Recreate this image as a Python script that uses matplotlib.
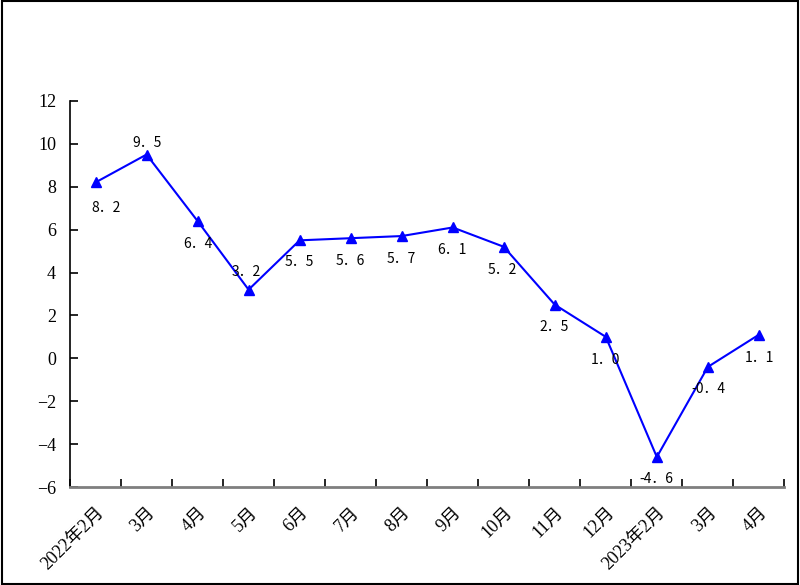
import matplotlib.pyplot as plt
from matplotlib.patches import Rectangle

plt.rcParams["font.family"] = ["Liberation Serif", "DejaVu Serif", "Noto Sans CJK SC"]

months = ["2022年2月", "3月", "4月", "5月", "6月", "7月", "8月", "9月",
          "10月", "11月", "12月", "2023年2月", "3月", "4月"]
values = [8.2, 9.5, 6.4, 3.2, 5.5, 5.6, 5.7, 6.1, 5.2, 2.5, 1.0, -4.6, -0.4, 1.1]
value_labels = ["8.2", "9.5", "6.4", "3.2", "5.5", "5.6", "5.7", "6.1",
                "5.2", "2.5", "1.0", "-4.6", "-0.4", "1.1"]

# label offsets in pixels (dx, dy)
offsets = [(11, -26), (1, 12), (0, -23), (-2, 18), (0, -22), (0, -23), (0, -23),
           (-1, -23), (-1, -23), (-1, -22), (0, -23), (0, -22), (1, -22), (1, -23)]

cjk = ["Noto Sans CJK SC", "DejaVu Sans"]

fig = plt.figure(figsize=(8, 5.85), dpi=100)
ax = fig.add_axes([0.0875, 0.1675, 0.893, 0.66])

x = list(range(len(values)))
ax.plot(x, values, color="#0000ff", lw=1.5, marker="^", ms=7.5)

for i, (v, t) in enumerate(zip(values, value_labels)):
    dx, dy = offsets[i]
    ax.annotate(t.replace(".", "．"), (i, v), xytext=(dx, dy),
                textcoords="offset pixels", ha="center", va="center",
                fontsize=10, family=cjk, color="#000000")

ax.set_xlim(-0.5, len(values) - 0.5)
ax.set_ylim(-6, 12)
ax.set_yticks(range(-6, 13, 2))
ax.tick_params(axis="y", labelsize=13)

ax.set_xticks([i - 0.5 for i in range(len(values) + 1)])
ax.set_xticklabels([])
ax.set_xticks(x, minor=True)
ax.set_xticklabels(months, minor=True, rotation=45, ha="right", va="top",
                   rotation_mode="anchor", fontsize=13)
ax.tick_params(axis="x", which="minor", length=0, pad=12)
ax.tick_params(axis="x", which="major", direction="in", length=6, width=1.2)
ax.tick_params(axis="y", direction="in", length=6, width=1.2, pad=10)

for s in ["top", "right"]:
    ax.spines[s].set_visible(False)
ax.spines["left"].set_color("#000000")
ax.spines["bottom"].set_color("#7f7f7f")
ax.spines["bottom"].set_linewidth(2)
ax.spines["left"].set_linewidth(1.2)

fig.patches.append(Rectangle((0.002, 0.002), 0.996, 0.996, transform=fig.transFigure,
                             fill=False, edgecolor="black", lw=1.5))

fig.savefig("out.png", dpi=100)
